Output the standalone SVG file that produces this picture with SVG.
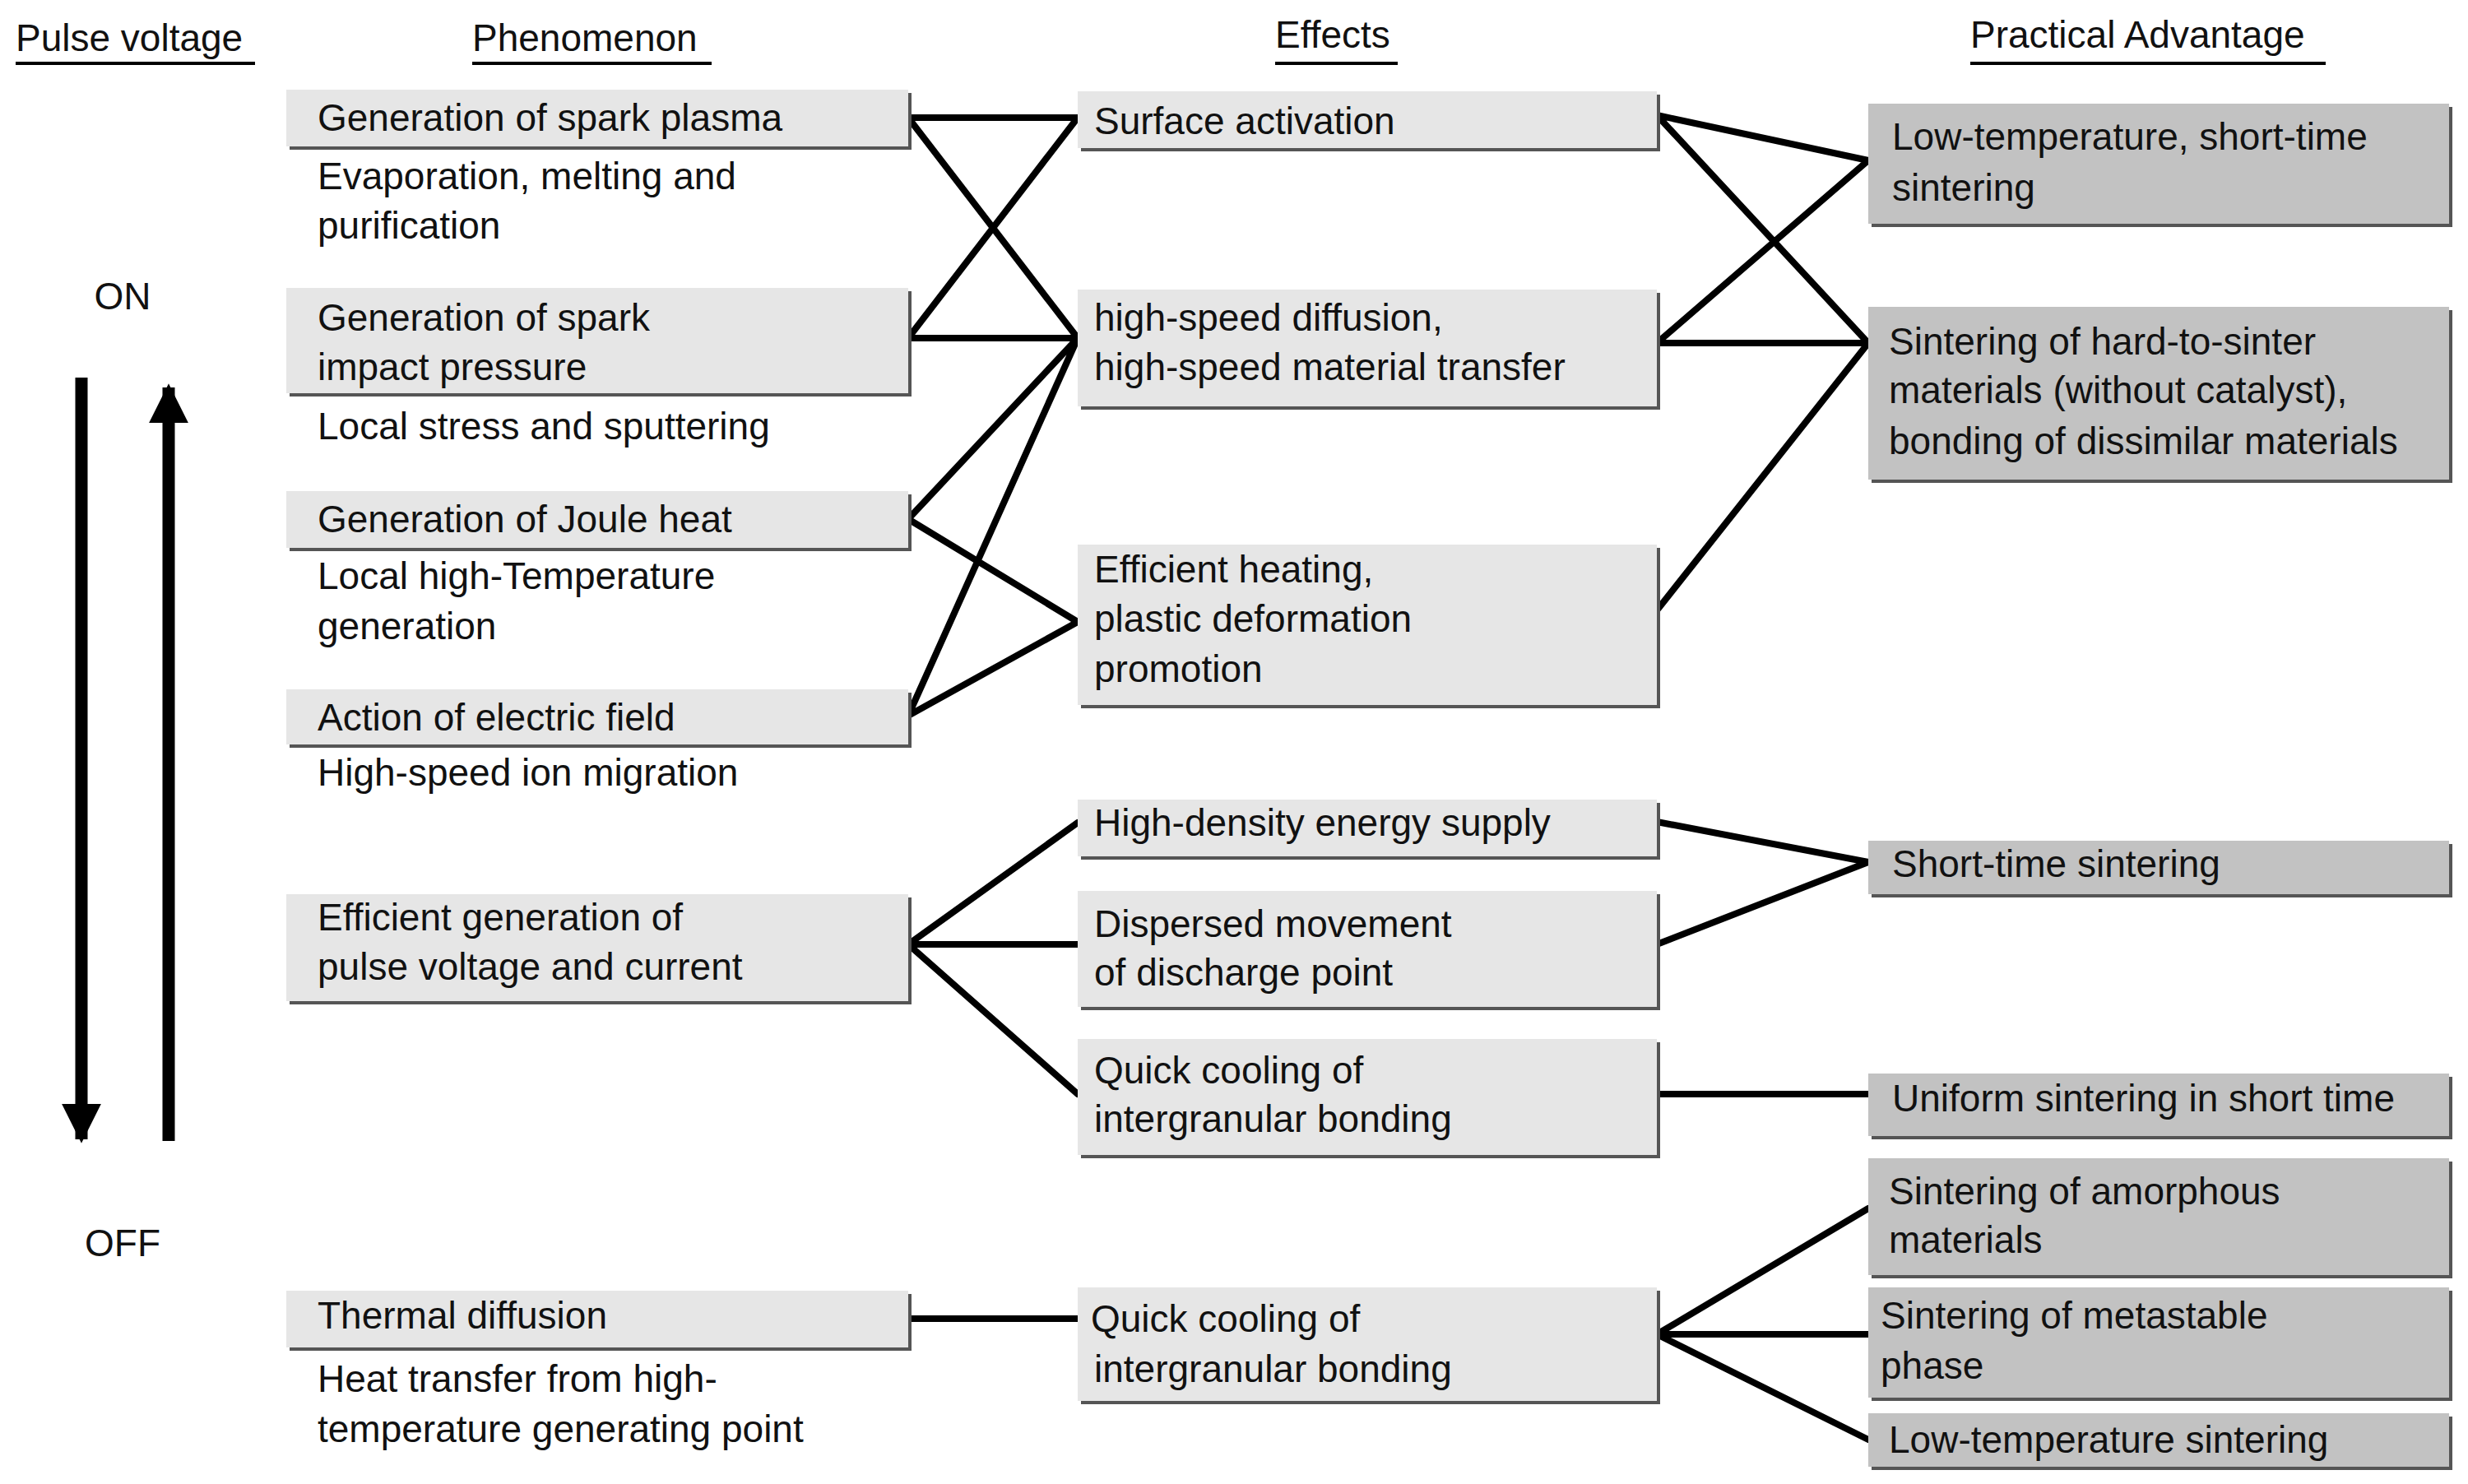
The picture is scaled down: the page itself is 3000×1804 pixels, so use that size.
<svg xmlns="http://www.w3.org/2000/svg" width="3000" height="1804" viewBox="0 0 3000 1804">
<style>
text{font-family:"Liberation Sans",Arial,sans-serif;font-size:46px;fill:#111}
.h{font-size:46px}
.b{fill:#e6e6e6}
.d{fill:#c2c2c2}
.s{fill:#555}
.c{stroke:#000;stroke-width:8;fill:none;stroke-linecap:round;stroke-linejoin:round}
.u{stroke:#000;stroke-width:4}
</style>
<defs>
<marker id="ah" viewBox="0 0 10 10" refX="9" refY="5" markerWidth="3.2" markerHeight="4.5" orient="auto" markerUnits="strokeWidth"><path d="M0,0L10,5L0,10z" fill="#000"/></marker>
</defs>
<rect width="3000" height="1804" fill="#fff"/>
<g id="headers">
<text x="19" y="62">Pulse voltage</text><line class="u" x1="19" y1="77" x2="310" y2="77"/>
<text x="574" y="62">Phenomenon</text><line class="u" x1="574" y1="77" x2="865" y2="77"/>
<text x="1550" y="58">Effects</text><line class="u" x1="1550" y1="77" x2="1699" y2="77"/>
<text x="2395" y="58">Practical Advantage</text><line class="u" x1="2395" y1="77" x2="2827" y2="77"/>
<text x="149" y="376" text-anchor="middle">ON</text>
<text x="149" y="1527" text-anchor="middle">OFF</text>
<line x1="99" y1="459" x2="99" y2="1385" stroke="#000" stroke-width="15" marker-end="url(#ah)"/>
<line x1="205" y1="1387" x2="205" y2="471" stroke="#000" stroke-width="15" marker-end="url(#ah)"/>
</g>
<g id="connectors">
<path class="c" d="M1104,143H1310L1104,411H1310L1104,143M1310,411L1104,631L1310,756L1104,870L1310,411"/>
<path class="c" d="M1310,1000L1104,1148L1310,1330M1104,1148H1310M1104,1603H1310"/>
<path class="c" d="M2014,140L2271,195L2014,417L2271,417L2014,140M2014,742L2271,417"/>
<path class="c" d="M2014,999L2271,1048L2014,1148M2014,1330H2271M2271,1469L2014,1622L2271,1750M2014,1622H2271"/>
</g>
<g id="n1"><rect class="s" x="352" y="113" width="756" height="69"/><rect class="b" x="348" y="109" width="756" height="69"/><text x="386" y="159">Generation of spark plasma</text><text x="386" y="230">Evaporation, melting and</text><text x="386" y="290">purification</text></g>
<g id="n2"><rect class="s" x="352" y="354" width="756" height="128"/><rect class="b" x="348" y="350" width="756" height="128"/><text x="386" y="402">Generation of spark</text><text x="386" y="462">impact pressure</text><text x="386" y="534">Local stress and sputtering</text></g>
<g id="n3"><rect class="s" x="352" y="601" width="756" height="69"/><rect class="b" x="348" y="597" width="756" height="69"/><text x="386" y="647">Generation of Joule heat</text><text x="386" y="716">Local high-Temperature</text><text x="386" y="777">generation</text></g>
<g id="n4"><rect class="s" x="352" y="842" width="756" height="67"/><rect class="b" x="348" y="838" width="756" height="67"/><text x="386" y="888">Action of electric field</text><text x="386" y="955">High-speed ion migration</text></g>
<g id="n5"><rect class="s" x="352" y="1091" width="756" height="130"/><rect class="b" x="348" y="1087" width="756" height="130"/><text x="386" y="1131">Efficient generation of</text><text x="386" y="1191">pulse voltage and current</text></g>
<g id="n6"><rect class="s" x="352" y="1573" width="756" height="69"/><rect class="b" x="348" y="1569" width="756" height="69"/><text x="386" y="1615">Thermal diffusion</text><text x="386" y="1692">Heat transfer from high-</text><text x="386" y="1753">temperature generating point</text></g>
<g id="e1"><rect class="s" x="1314" y="115" width="704" height="69"/><rect class="b" x="1310" y="111" width="704" height="69"/><text x="1330" y="163">Surface activation</text></g>
<g id="e2"><rect class="s" x="1314" y="356" width="704" height="142"/><rect class="b" x="1310" y="352" width="704" height="142"/><text x="1330" y="402">high-speed diffusion,</text><text x="1330" y="462">high-speed material transfer</text></g>
<g id="e3"><rect class="s" x="1314" y="666" width="704" height="195"/><rect class="b" x="1310" y="662" width="704" height="195"/><text x="1330" y="708">Efficient heating,</text><text x="1330" y="768">plastic deformation</text><text x="1330" y="829">promotion</text></g>
<g id="e4"><rect class="s" x="1314" y="976" width="704" height="69"/><rect class="b" x="1310" y="972" width="704" height="69"/><text x="1330" y="1016">High-density energy supply</text></g>
<g id="e5"><rect class="s" x="1314" y="1087" width="704" height="141"/><rect class="b" x="1310" y="1083" width="704" height="141"/><text x="1330" y="1139">Dispersed movement</text><text x="1330" y="1198">of discharge point</text></g>
<g id="e6"><rect class="s" x="1314" y="1267" width="704" height="141"/><rect class="b" x="1310" y="1263" width="704" height="141"/><text x="1330" y="1317">Quick cooling of</text><text x="1330" y="1376">intergranular bonding</text></g>
<g id="e7"><rect class="s" x="1314" y="1569" width="704" height="138"/><rect class="b" x="1310" y="1565" width="704" height="138"/><text x="1326" y="1619">Quick cooling of</text><text x="1330" y="1680">intergranular bonding</text></g>
<g id="p1"><rect class="s" x="2275" y="130" width="706" height="146"/><rect class="d" x="2271" y="126" width="706" height="146"/><text x="2300" y="182">Low-temperature, short-time</text><text x="2300" y="244">sintering</text></g>
<g id="p2"><rect class="s" x="2275" y="377" width="706" height="210"/><rect class="d" x="2271" y="373" width="706" height="210"/><text x="2296" y="431">Sintering of hard-to-sinter</text><text x="2296" y="490">materials (without catalyst),</text><text x="2296" y="552">bonding of dissimilar materials</text></g>
<g id="p3"><rect class="s" x="2275" y="1026" width="706" height="65"/><rect class="d" x="2271" y="1022" width="706" height="65"/><text x="2300" y="1066">Short-time sintering</text></g>
<g id="p4"><rect class="s" x="2275" y="1309" width="706" height="76"/><rect class="d" x="2271" y="1305" width="706" height="76"/><text x="2300" y="1351">Uniform sintering in short time</text></g>
<g id="p5"><rect class="s" x="2275" y="1412" width="706" height="142"/><rect class="d" x="2271" y="1408" width="706" height="142"/><text x="2296" y="1464">Sintering of amorphous</text><text x="2296" y="1523">materials</text></g>
<g id="p6"><rect class="s" x="2275" y="1569" width="706" height="134"/><rect class="d" x="2271" y="1565" width="706" height="134"/><text x="2286" y="1615">Sintering of metastable</text><text x="2286" y="1676">phase</text></g>
<g id="p7"><rect class="s" x="2275" y="1722" width="706" height="65"/><rect class="d" x="2271" y="1718" width="706" height="65"/><text x="2296" y="1766">Low-temperature sintering</text></g>
</svg>
